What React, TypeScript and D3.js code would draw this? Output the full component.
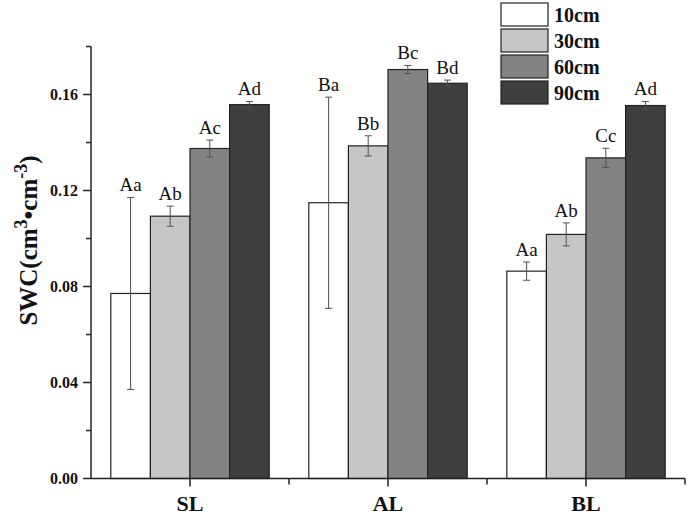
import * as d3 from 'd3';

// soil water content by land type and depth
const sites = ['SL', 'AL', 'BL'];
const depths = ['10cm', '30cm', '60cm', '90cm'];
const fills = ['#ffffff', '#c6c6c6', '#838383', '#3f3f3f'];

const swc10 = [0.0771, 0.1149, 0.0864];
const swc30 = [0.1093, 0.1386, 0.1017];
const swc60 = [0.1375, 0.1704, 0.1336];
const swc90 = [0.1558, 0.1647, 0.1554];

const err10 = [0.04, 0.044, 0.0038];
const err30 = [0.0042, 0.0042, 0.0048];
const err60 = [0.0035, 0.0017, 0.004];
const err90 = [0.0013, 0.0013, 0.0017];

const lab10 = ['Aa', 'Ba', 'Aa'];
const lab30 = ['Ab', 'Bb', 'Ab'];
const lab60 = ['Ac', 'Bc', 'Cc'];
const lab90 = ['Ad', 'Bd', 'Ad'];

const majorTicks = [0, 0.04, 0.08, 0.12, 0.16];
const minorTicks = [0.02, 0.06, 0.1, 0.14, 0.18];

const W = 692;
const H = 517;
const left = 91;
const right = 685;
const bottom = 478.5;
const top = 46.5;
const serif = '"Liberation Serif", "Times New Roman", serif';

export default function App() {
  const values = [swc10, swc30, swc60, swc90];
  const errors = [err10, err30, err60, err90];
  const labels = [lab10, lab30, lab60, lab90];

  const y = d3.scaleLinear().domain([0, 0.18]).range([bottom, top]);
  const x0 = d3.scaleBand<string>().domain(sites).range([left, right]).padding(0);
  const x1 = d3
    .scaleBand<string>()
    .domain(depths)
    .range([x0.bandwidth() * 0.1, x0.bandwidth() * 0.9])
    .padding(0);
  const bw = x1.bandwidth();

  const bars = sites.flatMap((s, i) =>
    depths.map((d, j) => ({
      key: `${s}-${d}`,
      x: (x0(s) ?? 0) + (x1(d) ?? 0),
      v: values[j][i],
      e: errors[j][i],
      label: labels[j][i],
      fill: fills[j],
    })),
  );

  const boundaries = sites.map((s) => (x0(s) ?? 0) + x0.bandwidth());

  return (
    <div style={{ position: 'absolute', left: 0, top: 0 }}>
      <svg width={W} height={H} viewBox={`0 0 ${W} ${H}`} style={{ display: 'block', background: '#fff' }}>
        {bars.map((b) => {
          const cx = b.x + bw / 2;
          const yt = y(b.v + b.e);
          const yb = y(b.v - b.e);
          return (
            <g key={b.key}>
              <rect x={b.x} y={y(b.v)} width={bw} height={bottom - y(b.v)} fill={b.fill} stroke="#222" strokeWidth={1.2} />
              <g stroke="#505050" strokeWidth={1}>
                <line x1={cx} x2={cx} y1={yt} y2={yb} />
                <line x1={cx - 3.5} x2={cx + 3.5} y1={yt} y2={yt} />
                <line x1={cx - 3.5} x2={cx + 3.5} y1={yb} y2={yb} />
              </g>
              <text x={cx} y={yt - 6} textAnchor="middle" fontFamily={serif} fontSize={19} fill="#111">
                {b.label}
              </text>
            </g>
          );
        })}

        {/* y axis */}
        <line x1={left} x2={left} y1={top} y2={bottom} stroke="#222" strokeWidth={1.5} />
        {majorTicks.map((t) => (
          <g key={`M${t}`}>
            <line x1={left - 8} x2={left} y1={y(t)} y2={y(t)} stroke="#222" strokeWidth={1.5} />
            <text
              x={left - 13}
              y={y(t)}
              dy="0.35em"
              textAnchor="end"
              fontFamily={serif}
              fontWeight="bold"
              fontSize={16}
              fill="#111"
            >
              {t.toFixed(2)}
            </text>
          </g>
        ))}
        {minorTicks.map((t) => (
          <line key={`m${t}`} x1={left - 5} x2={left} y1={y(t)} y2={y(t)} stroke="#222" strokeWidth={1.5} />
        ))}

        {/* x axis */}
        <line x1={left} x2={right} y1={bottom} y2={bottom} stroke="#222" strokeWidth={1.5} />
        {sites.map((s) => {
          const cx = (x0(s) ?? 0) + x0.bandwidth() / 2;
          return (
            <g key={s}>
              <line x1={cx} x2={cx} y1={bottom} y2={bottom + 8} stroke="#222" strokeWidth={1.5} />
              <text x={cx} y={511} textAnchor="middle" fontFamily={serif} fontWeight="bold" fontSize={22} fill="#111">
                {s}
              </text>
            </g>
          );
        })}
        {boundaries.map((bx) => (
          <line key={bx} x1={bx} x2={bx} y1={bottom} y2={bottom + 6} stroke="#222" strokeWidth={1.5} />
        ))}

        {/* y title */}
        <text
          transform={`translate(37,${(top + bottom) / 2 - 22}) rotate(-90)`}
          textAnchor="middle"
          fontFamily={serif}
          fontWeight="bold"
          fontSize={25}
          fill="#111"
        >
          SWC(cm<tspan dy={-10} fontSize={18}>3</tspan>
          <tspan dy={10}>•cm</tspan>
          <tspan dy={-10} fontSize={18}>-3</tspan>
          <tspan dy={10}>)</tspan>
        </text>

        {/* legend */}
        {depths.map((d, j) => (
          <g key={d} transform={`translate(501,${3 + j * 26})`}>
            <rect width={47} height={23} fill={fills[j]} stroke="#222" strokeWidth={1.2} />
            <text x={53} y={18.5} fontFamily={serif} fontWeight="bold" fontSize={20} fill="#111">
              {d}
            </text>
          </g>
        ))}
      </svg>
    </div>
  );
}
